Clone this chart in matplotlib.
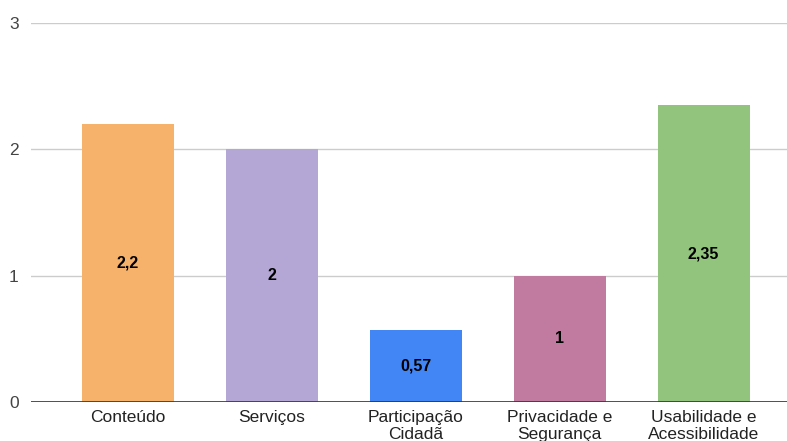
import matplotlib.pyplot as plt

plt.rcParams['font.family'] = ['Liberation Sans', 'DejaVu Sans']

categorias = ['Conteúdo', 'Serviços', 'Participação\nCidadã', 'Privacidade e\nSegurança',
              'Usabilidade e\nAcessibilidade']
valores = [2.2, 2, 0.57, 1, 2.35]
rotulos = ['2,2', '2', '0,57', '1', '2,35']
cores = ['#F6B26B', '#B4A7D6', '#4285F4', '#C27BA0', '#93C47D']

fig = plt.figure(figsize=(7.87, 4.41), dpi=100)
ax = fig.add_axes([31 / 787, 1 - 402 / 441, 1 - 31 / 787, (402 - 23) / 441])

x = list(range(len(categorias)))
ax.bar(x, valores, width=0.64, color=cores, zorder=2)

for xi, v, r in zip(x, valores, rotulos):
    ax.text(xi, v / 2, r, ha='center', va='center', fontsize=11.5,
            fontweight='bold', color='#000000', zorder=3)

ax.set_xlim(-0.675, 4.58)
ax.set_ylim(0, 3)
ax.set_yticks([0, 1, 2, 3])
ax.set_yticklabels(['0', '1', '2', '3'])
ax.set_xticks(x)
ax.set_xticklabels(categorias, fontsize=12.5, color='#222222', linespacing=1.1)

ax.grid(axis='y', color='#cccccc', linewidth=1, zorder=0)
ax.axhline(0, color='#333333', linewidth=1.2, zorder=3)
for s in ax.spines.values():
    s.set_visible(False)
ax.tick_params(axis='both', length=0, labelsize=12.5, colors='#444444')
ax.tick_params(axis='x', pad=6, colors='#222222')
ax.tick_params(axis='y', pad=9)

fig.savefig('out.png', dpi=100)
